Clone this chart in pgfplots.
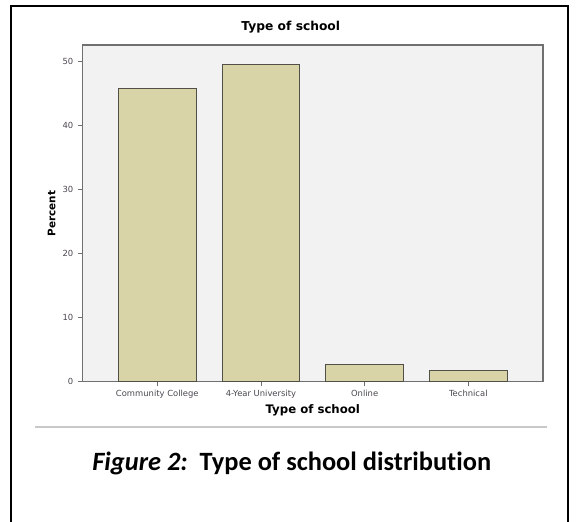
\documentclass[border=0pt]{standalone}
\usepackage{pgfplots}
\pgfplotsset{compat=1.18}
\usepackage{fontspec}
\setmainfont{DejaVu Sans}
\newfontfamily\calfont[Ligatures=CommonOff]{Carlito}

\definecolor{bgGray}{HTML}{F2F2F2}
\definecolor{barTan}{HTML}{D8D4A8}
\definecolor{barEdge}{HTML}{505048}
\definecolor{frameGray}{HTML}{707070}
\definecolor{tickText}{HTML}{4A4650}
\definecolor{ruleGray}{HTML}{C8C8C8}

\begin{document}
\begin{tikzpicture}
    % page frame: 576 x 522 px at 0.75pt per px
    \path[use as bounding box] (0,0) rectangle (432pt,391.5pt);
    \draw[black,line width=1pt] (8.25pt,-2pt) -- (8.25pt,387pt) -- (426pt,387pt) -- (426pt,-2pt);

    \begin{axis}[
        at={(62pt,105.2pt)}, anchor=south west,
        scale only axis,
        width=345.2pt, height=252.5pt,
        ybar, bar width=0.75,
        xmin=-0.72, xmax=3.72,
        ymin=0, ymax=52.6,
        xtick={0,1,2,3},
        xticklabels={Community College, 4-Year University, Online, Technical},
        ytick={0,10,20,30,40,50},
        tick align=outside,
        tick pos=left,
        major tick length=3.5pt,
        tick style={frameGray, line width=0.6pt},
        axis line style={frameGray, line width=1pt},
        axis background/.style={fill=bgGray},
        /pgf/number format/assume math mode=true,
        ticklabel style={font=\fontsize{6.3}{7}\selectfont, text=tickText},
        xticklabel style={yshift=0.5pt},
        title={Type of school},
        title style={at={(0.4522,1.0297)}, anchor=center, font=\bfseries\fontsize{9.2}{10}\selectfont},
        xlabel={Type of school},
        xlabel style={at={(0.5,-0.084)}, anchor=center, font=\bfseries\fontsize{8.8}{10}\selectfont},
        ylabel={Percent},
        ylabel style={at={(-0.0674,0.5)}, anchor=center, font=\bfseries\fontsize{7.8}{9}\selectfont},
    ]
    \addplot[fill=barTan, draw=barEdge, line width=0.7pt] coordinates {
        (0,45.8) (1,49.6) (2,2.7) (3,1.7)
    };
    \end{axis}

    % separator and caption
    \draw[ruleGray,line width=1.1pt] (26.25pt,71.25pt) -- (410.25pt,71.25pt);
    \node[anchor=base,font=\calfont\bfseries\fontsize{19.8}{23}\selectfont] at (218.8pt,38.5pt)
        {\itshape Figure 2:\upshape\ \ Type of school distribution};
\end{tikzpicture}
\end{document}
